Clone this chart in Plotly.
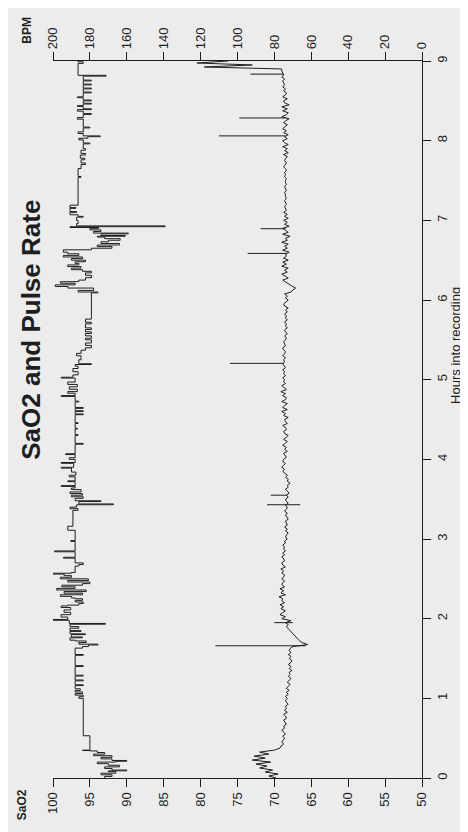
import plotly.graph_objects as go

# ---------------- data ----------------
SAO2_HOURS = [
    0.00, 0.02, 0.04, 0.06, 0.08, 0.09, 0.10, 0.12, 0.14, 0.16, 0.18, 0.20, 0.21, 0.22, 0.24, 0.26, 0.28, 0.30, 0.32, 0.34,
    0.345, 0.35, 0.53,
    1.00, 1.02, 1.04, 1.06, 1.08, 1.10, 1.12,
    1.13, 1.16, 1.17, 1.22, 1.23, 1.28, 1.29, 1.40, 1.41, 1.54, 1.55,
    1.63, 1.65, 1.67, 1.68, 1.70, 1.72,
    1.73, 1.76, 1.77, 1.80, 1.81, 1.84, 1.85, 1.88, 1.90, 1.93, 1.94,
    1.98, 1.99, 2.02, 2.05, 2.08, 2.11, 2.14, 2.16,
    2.17, 2.19, 2.21, 2.23, 2.25,
    2.26, 2.28, 2.30, 2.32, 2.34, 2.36, 2.38, 2.40, 2.42, 2.44, 2.46, 2.48, 2.50, 2.52, 2.54, 2.56, 2.57,
    2.58, 2.66, 2.68, 2.70, 2.72, 2.76, 2.77, 2.84, 2.85, 2.97, 2.98,
    3.11, 3.16,
    3.36, 3.38, 3.40, 3.43, 3.44, 3.47, 3.48, 3.51, 3.53, 3.55, 3.57, 3.59, 3.62, 3.64,
    3.66, 3.67, 3.72, 3.73, 3.78, 3.80, 3.84, 3.89, 3.90, 3.95, 3.96, 4.00, 4.02, 4.06, 4.07,
    4.19, 4.20, 4.30, 4.31, 4.38, 4.39, 4.45, 4.46,
    4.56, 4.57, 4.60, 4.61, 4.64, 4.65, 4.72, 4.73, 4.79, 4.80, 4.83, 4.85, 4.88, 4.91, 4.94, 4.97, 5.02, 5.03,
    5.06, 5.10, 5.14, 5.17, 5.19, 5.20,
    5.25, 5.30, 5.33, 5.37,
    5.40, 5.43, 5.46, 5.50, 5.52, 5.55, 5.58, 5.60, 5.63,
    5.65, 5.70, 5.72, 5.76, 5.80,
    6.09, 6.10, 6.12, 6.15, 6.17, 6.19, 6.21, 6.23,
    6.25, 6.28, 6.31, 6.34,
    6.36, 6.38, 6.40, 6.42, 6.44, 6.46, 6.48, 6.50, 6.52, 6.54, 6.56, 6.58, 6.60,
    6.63, 6.65, 6.67, 6.69, 6.71, 6.73, 6.75, 6.77,
    6.79, 6.80, 6.81, 6.83, 6.84, 6.86, 6.88, 6.90, 6.91, 6.92, 6.93,
    6.96, 7.00, 7.04, 7.05,
    7.07, 7.10, 7.11, 7.15, 7.16,
    7.19, 7.54, 7.55,
    7.65, 7.70, 7.72, 7.76, 7.78, 7.82, 7.84, 7.88,
    7.90, 7.96, 7.97, 8.01, 8.03, 8.05, 8.06, 8.09, 8.11, 8.16, 8.17, 8.27, 8.29, 8.33, 8.34, 8.37, 8.39,
    8.40, 8.43, 8.44, 8.46, 8.47, 8.50, 8.51, 8.54, 8.55, 8.60, 8.61, 8.65, 8.66, 8.70, 8.71, 8.75, 8.76,
    8.81, 8.82, 8.97, 8.99, 9.00,
]
SAO2_VALUES = [
    93.0, 92.0, 93.5, 91.5, 92.5, 90.0, 92.0, 93.0, 91.0, 92.5, 94.0, 91.5, 90.0, 92.0, 93.5, 92.0, 94.5, 93.0, 94.0, 95.0,
    96.0, 95.0, 95.9,
    96.5, 95.9, 97.0, 96.0, 97.0, 96.3, 97.0,
    97.0, 95.9, 97.0, 95.9, 97.0, 95.9, 97.0, 95.9, 97.0, 95.9, 97.0,
    96.0, 95.2, 93.9, 96.5, 95.5, 97.0,
    97.7, 96.0, 97.5, 95.6, 97.7, 96.2, 97.7, 96.5, 97.7, 92.9, 97.8,
    100.0, 98.0, 98.9, 97.6, 98.5, 97.6, 98.9, 98.0,
    96.5, 95.9, 97.0, 96.0, 97.0,
    97.5, 99.0, 96.0, 98.5, 95.5, 99.5, 97.0, 98.8, 96.0, 95.0, 98.0, 95.2, 99.0, 97.5, 98.5, 100.0, 97.5,
    97.0, 96.5, 95.9, 97.0, 97.0, 98.6, 97.0, 99.8, 97.0, 97.6, 97.0,
    98.0, 97.3,
    96.6, 97.7, 96.8, 91.8, 96.5, 93.5, 97.0, 95.9, 97.5, 96.0, 97.7, 96.2, 97.5, 97.0,
    98.9, 97.0, 98.0, 97.0, 97.8, 96.9, 97.5, 98.9, 97.2, 98.9, 97.0, 97.8, 97.0, 98.3, 97.0,
    95.9, 97.0, 96.6, 97.0, 96.7, 97.0, 96.6, 97.0,
    95.9, 97.0, 95.9, 97.0, 95.9, 97.0, 96.5, 97.0, 98.9, 97.0, 98.0, 96.7, 97.8, 96.7, 98.0, 97.0, 98.9, 97.3,
    96.6, 97.3, 96.6, 97.0, 94.8, 96.5,
    96.2, 96.8, 96.2, 95.6,
    94.8, 95.6, 94.8, 95.6, 94.8, 95.6, 94.8, 95.6, 94.8,
    95.6, 94.8, 95.6, 94.8, 94.8,
    93.9, 96.6, 94.5, 98.0, 99.7, 97.0, 99.0, 96.5,
    95.6, 94.8, 95.6, 94.8,
    96.0, 97.5, 96.2, 98.0, 96.5, 97.0, 95.6, 97.5, 96.0, 98.6, 96.5, 98.0, 98.6,
    94.8, 92.0, 94.0, 91.0, 93.5, 92.5, 90.9, 93.0,
    94.0, 90.2, 93.5, 89.8, 94.5, 93.5, 95.0, 93.8, 97.7, 84.8, 96.8,
    96.6, 96.8, 95.9, 96.6,
    97.7, 96.8, 97.7, 96.9, 97.7,
    96.6, 96.2, 96.6,
    96.2, 95.6, 96.2, 95.7, 96.3, 95.6, 96.2, 95.6,
    95.9, 95.0, 95.9, 96.5, 95.3, 93.6, 95.9, 96.6, 95.9, 95.0, 95.9, 96.7, 95.9, 94.8, 95.9, 96.7, 94.8,
    95.9, 96.7, 95.9, 94.8, 95.9, 94.8, 95.9, 96.7, 95.9, 94.8, 95.9, 94.8, 95.9, 94.8, 95.9, 94.8, 95.9,
    92.8, 96.6, 95.9, 96.6, 96.6,
]

# pulse rate, one reading every 0.025 h from 0 h to 9 h (20 readings per half hour)
PULSE_START_H = 0.0
PULSE_STEP_H = 0.025
PULSE_BPM = [
    79, 83, 78, 85, 81, 88, 84, 90, 82, 92, 85, 91, 83, 88, 80, 77, 76.5, 75, 76, 75,
    74.5, 75.5, 74, 75, 76, 74.5, 75, 73.5, 74.5, 75, 73.5, 74, 75, 73, 74.5, 73.5, 74, 72.5, 73.5, 74,
    73, 74, 72.5, 73.5, 72, 73.5, 72.5, 71.5, 73, 72, 71, 72.5, 71.5, 72, 70.5, 72, 71, 72.5, 71, 70.5,
    72, 71, 72.5, 71, 72, 71.5, 70, 62, 65, 66.5, 67.5, 68.5, 69.5, 70.5, 71.5, 72, 73.5, 72.5, 74, 71,
    76, 74, 77, 75.5, 74, 76.5, 75, 77, 74.5, 76, 75.5, 77.5, 74, 76.5, 75, 77, 74.5, 76, 75.5, 74.5,
    76, 75, 74.5, 76, 75, 76.5, 74, 75.5, 76, 74.5, 75, 76, 74.5, 75.5, 74, 75, 74.5, 75.5, 74, 74.5,
    73, 74, 73.5, 72.5, 74, 73, 74.5, 73, 73.5, 74, 72.5, 73.5, 74, 73, 74.5, 73.5, 73, 74, 72.5, 73.5,
    74, 72.5, 73.5, 72, 73, 74, 72.5, 73, 71.5, 73, 72.5, 74, 73, 74.5, 75.5, 74.5, 76, 75, 74, 75.5,
    75, 73.5, 74.5, 75, 73, 74.5, 73.5, 75.5, 74, 73, 75, 74, 72.5, 74.5, 75, 73.5, 74, 75.5, 73, 74,
    74.5, 72.5, 75, 74, 76, 73, 75.5, 74.5, 73, 76, 74, 73.5, 75.5, 74, 76.5, 73.5, 75, 76, 74, 75,
    74.5, 75.5, 74, 75, 74.5, 75.5, 74, 75, 75.5, 74.5, 75, 74, 75.5, 74.5, 74, 75, 75.5, 74, 74.5, 75,
    74, 73.5, 74.5, 73, 74, 74.5, 73, 74, 73.5, 74.5, 73, 74, 73.5, 74.5, 73, 74, 72.5, 74.5, 75, 73.5,
    72.5, 74, 73, 74.5, 71, 70, 68.5, 70.5, 72, 74, 75.5, 72.5, 74, 76, 73, 74.5, 72.5, 76, 73.5, 75.5,
    72.5, 75, 73.5, 74, 72, 75.5, 73, 74.5, 72.5, 76, 73, 74, 71.5, 75.5, 72.5, 74, 75.5, 72, 74.5, 73,
    75, 72.5, 74.5, 73, 75, 73.5, 74, 74.5, 73.5, 74, 74.5, 73.5, 74, 74, 74.5, 73.5, 74, 74.5, 73.5, 74,
    74, 73.5, 74.5, 74, 74.5, 73.5, 74, 75, 74, 73.5, 74.5, 74, 73, 75, 72.5, 74.5, 73, 75.5, 72.5, 74.5,
    75.5, 73, 74.5, 72.5, 75, 73.5, 75.5, 74, 73, 75, 74, 72, 76, 73.5, 72.5, 75.5, 73, 76, 72, 74.5,
    75, 73, 75.5, 74, 73.5, 75, 74, 75.5, 74.5, 75, 75.5, 74.5, 76, 75, 75.5, 76, 76, 118, 92, 122,
    105,
]
# brief artefact spikes in the pulse trace: hour, value the trace is at, value reached
PULSE_SPIKE_HOURS = [1.66, 1.95, 3.43, 3.55, 5.205, 6.585, 6.895, 8.06, 8.285, 8.835]
PULSE_SPIKE_FROM = [63, 70, 66, 73, 75, 73, 74, 74, 74, 75]
PULSE_SPIKE_TO = [112, 80, 84, 82, 104, 94.5, 87.5, 110, 99, 93]

SAO2_TICKS = [100, 95, 90, 85, 80, 75, 70, 65, 60, 55, 50]
BPM_TICKS = [200, 180, 160, 140, 120, 100, 80, 60, 40, 20, 0]
HOUR_TICKS = [0, 1, 2, 3, 4, 5, 6, 7, 8, 9]

TITLE = "SaO2 and Pulse Rate"
HOURS_TITLE = "Hours into recording"

# ---------------- figure ----------------
INK = "#1e1e1e"
BG = "#ececec"
FONT = "Liberation Sans, Arial, sans-serif"

pulse_hours = [round(PULSE_START_H + i * PULSE_STEP_H, 3) for i in range(len(PULSE_BPM))]
spike_x, spike_y = [], []
for h, a, b in zip(PULSE_SPIKE_HOURS, PULSE_SPIKE_FROM, PULSE_SPIKE_TO):
    spike_x += [a, b, None]
    spike_y += [h, h, None]

fig = go.Figure()
fig.add_trace(go.Scatter(
    x=SAO2_VALUES, y=SAO2_HOURS, mode="lines",
    line=dict(color=INK, width=1, shape="vh"),
    xaxis="x", yaxis="y", showlegend=False, hoverinfo="skip",
))
fig.add_trace(go.Scatter(
    x=PULSE_BPM, y=pulse_hours, mode="lines",
    line=dict(color=INK, width=1),
    xaxis="x2", yaxis="y", showlegend=False, hoverinfo="skip",
))
fig.add_trace(go.Scatter(
    x=spike_x, y=spike_y, mode="lines",
    line=dict(color=INK, width=1),
    xaxis="x2", yaxis="y", showlegend=False, hoverinfo="skip",
))

axis_common = dict(
    showgrid=False, zeroline=False, showline=True, linecolor=INK, linewidth=1.2,
    ticks="outside", tickcolor=INK, tickwidth=1.2, ticklen=8,
    tickangle=-90, tickfont=dict(family=FONT, size=13, color=INK),
)


def label(text, x, y, size, bold=False):
    return dict(
        text=("<b>" + text + "</b>") if bold else text, textangle=-90,
        xref="paper", yref="paper", x=x, y=y, xanchor="center", yanchor="middle",
        showarrow=False, font=dict(family=FONT, size=size, color=INK),
    )


fig.update_layout(
    width=468, height=832,
    margin=dict(l=45, r=54, t=53, b=62),
    paper_bgcolor=BG, plot_bgcolor=BG,
    xaxis=dict(range=[100, 50], tickmode="array", tickvals=SAO2_TICKS,
               ticktext=[str(v) for v in SAO2_TICKS], side="bottom", **axis_common),
    xaxis2=dict(range=[200, 0], tickmode="array", tickvals=BPM_TICKS,
                ticktext=[str(v) for v in BPM_TICKS], side="top", overlaying="x", **axis_common),
    yaxis=dict(range=[0, 9], tickmode="array", tickvals=HOUR_TICKS,
               ticktext=[str(v) for v in HOUR_TICKS], side="right", **axis_common),
    annotations=[
        label("SaO2", -0.084, -0.038, 12, bold=True),
        label("BPM", -0.069, 1.043, 12, bold=True),
        label(TITLE, -0.060, 0.625, 26, bold=True),
        label(HOURS_TITLE, 1.092, 0.604, 13),
    ],
)

fig.write_html("out.html")
